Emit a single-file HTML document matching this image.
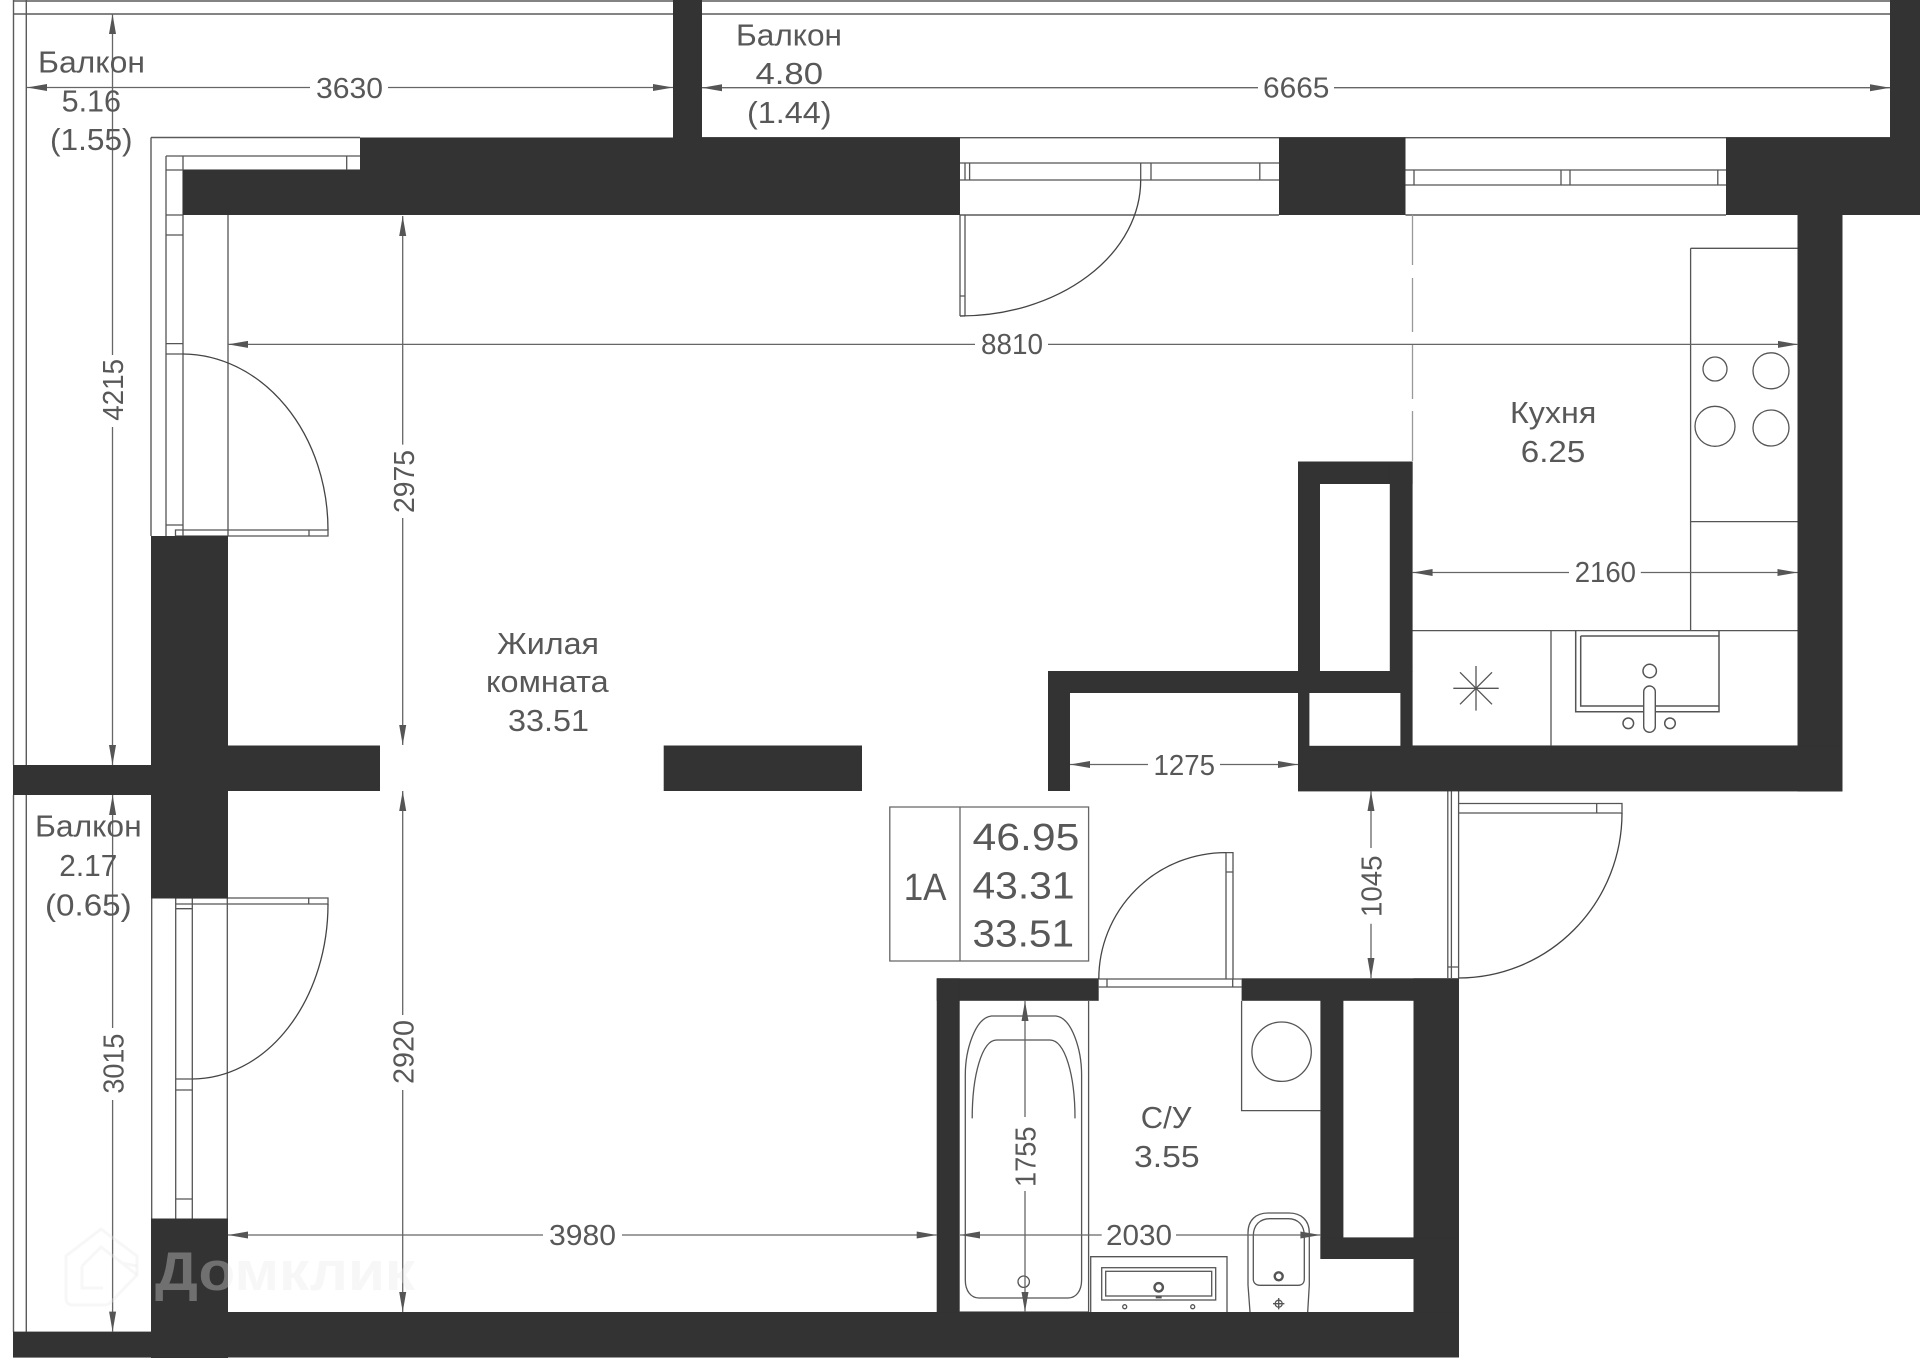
<!DOCTYPE html>
<html><head><meta charset="utf-8"><style>
html,body{margin:0;padding:0;background:#fff}
svg{display:block}
text{font-family:"Liberation Sans",sans-serif;fill:#585858}
.d{font-size:28.5px}
.r{font-size:30.5px}
.i{font-size:38px}
.l{stroke:#5a5a5a;stroke-width:1.4;fill:none}
.t{stroke:#555;stroke-width:1.3;fill:none}
.a{fill:#555}
.dl{stroke:#666;stroke-width:1.3;fill:none}
</style></head><body>
<svg width="1920" height="1358" viewBox="0 0 1920 1358" xmlns="http://www.w3.org/2000/svg">
<rect width="1920" height="1358" fill="#fff"/>

<!-- balcony lines -->
<path class="l" d="M13.5 0V765M26.3 0V765M13.5 795V1332M26.3 795V1332M13 1H673M13 14H673M702 1H1890M702 14H1890"/>
<path class="l" d="M702 137.7H1890M151 137.5H360M151 137.5V536"/>
<path class="l" d="M960 215H1279M1405.5 215H1726"/>

<!-- left window top -->
<path class="t" d="M166 156H360M166 170H360M166 156V536M183 156V536M228 215V536M166 170H183M166 215H183M166 235H183M166 343.6H183M166 354H183M166 525H183M346.7 156V170"/>
<path class="t" d="M175.5 536V530H328V536H175.5M309 530V536"/>
<path class="t" d="M183 354A146 176 0 0 1 328 530" style="stroke:#444"/>

<!-- left window lower -->
<path class="t" d="M151.7 898V1218.5M227.3 898V1218.5M175.7 898V1218.5M192.3 898V1218.5M175.7 908.7H192.3M175.7 1079H192.3M175.7 1090H192.3M175.7 1199H192.3"/>
<path class="t" d="M175.7 898H328V904H175.7M308.7 898V904"/>
<path class="t" d="M328 904A136 175 0 0 1 192.3 1079" style="stroke:#444"/>

<!-- top windows -->
<path class="t" d="M960 163H1279M960 180H1279M965 163V180M969.6 163V180M1140.7 163V180M1151 163V180M1259.8 163V180"/>
<path class="t" d="M1405.5 170H1726M1405.5 185H1726M1414 170V185M1561 170V185M1570 170V185M1717.8 170V185"/>
<path class="t" d="M960 215V316M965 215V316M960 296H965M960 316H965"/>
<path class="t" d="M1140.7 180A180.700 136 0 0 1 960 316" style="stroke:#444"/>

<!-- kitchen dash -->
<path d="M1412.5 215V265M1412.500 278V332M1412.5 344V399M1412.5 411V461" stroke="#999" stroke-width="1.3" fill="none"/>

<!-- kitchen furniture -->
<path class="t" d="M1690.600 248.3H1798M1690.6 248.3V630.6M1690.6 521.600H1798M1412 630.600H1798M1551 630.600V746M1412 746H1798"/>
<circle class="t" cx="1715" cy="369" r="12"/>
<circle class="t" cx="1771" cy="370.800" r="18"/>
<circle class="t" cx="1715" cy="426.300" r="20"/>
<circle class="t" cx="1771" cy="428" r="18"/>
<path class="t" d="M1453.300 688.300H1498.700M1476 666V710.600M1460 672.300L1492 704.300M1492 672.300L1460 704.300"/>
<path class="t" d="M1575.700 631V711.700H1719V631M1580.700 636H1719M1580.700 636V706H1719M1719 631V711.700" style="stroke-width:1.5"/>
<circle class="t" cx="1649.700" cy="671" r="6.700" style="stroke-width:1.5"/>
<rect x="1643.700" y="686" width="11.600" height="46.300" rx="5.800" fill="#fff" stroke="#555" stroke-width="1.400"/>
<circle class="t" cx="1628.300" cy="723.300" r="5.300" style="stroke-width:1.500"/>
<circle class="t" cx="1670" cy="723.300" r="5.300" style="stroke-width:1.500"/>

<!-- door to hall right -->
<path class="t" d="M1447.800 791V978M1451.400 791V978M1458.600 791V978M1447.800 967H1458.600M1458.600 803.500H1622V813H1458.600M1596.700 803.500V813M1622 803.500V813"/>
<path class="t" d="M1622 813A163.500 165 0 0 1 1458.600 978" style="stroke:#444"/>

<!-- bathroom door -->
<path class="t" d="M1098.800 979H1241.600M1098.800 987H1241.600M1107 979V987M1232.700 979V987M1226 852.600H1233V979M1226 852.600V979M1226 872H1233"/>
<path class="t" d="M1226 852.600A127 126.400 0 0 0 1098.800 979" style="stroke:#444"/>

<!-- bathroom furniture -->
<path class="t" d="M1088.600 1001V1312M959.600 1312H1088.600"/>
<path class="t" d="M991.400 1016H1056C1072 1018 1081.600 1050 1081.600 1075V1280C1081.600 1291 1076 1298 1068 1298H979C971 1298 965.300 1291 965.300 1280V1075C965.300 1050 975 1018 991.400 1016Z"/>
<path class="t" d="M972.200 1118.400C972.200 1075 982 1040 996.700 1040H1049.800C1065 1040 1075 1075 1075 1118.400"/>
<circle class="t" cx="1023.700" cy="1281.700" r="5.700"/>
<path class="t" d="M1241.600 1001V1110.600H1320.400"/>
<circle class="t" cx="1281.600" cy="1051.700" r="29.700"/>
<path class="t" d="M1090.700 1312V1256.700H1227V1312"/>
<rect class="t" x="1101.700" y="1267.700" width="114" height="32.300"/>
<rect class="t" x="1105.700" y="1271.300" width="106" height="24.700"/>
<circle class="t" cx="1158.700" cy="1287.300" r="4.200" style="stroke-width:2.400"/>
<rect x="1155.700" y="1296" width="6" height="2.400" fill="#555"/>
<circle class="t" cx="1124.700" cy="1306.700" r="2"/>
<circle class="t" cx="1192.700" cy="1306.700" r="2"/>
<path class="t" d="M1248 1285V1233C1248 1220 1256 1213 1268 1213H1289C1301 1213 1309.300 1220 1309.300 1233V1285L1307.700 1312M1248 1285L1250 1312"/>
<path class="t" d="M1253.300 1279V1236C1253.300 1225 1260 1218.700 1270 1218.700H1288C1298 1218.700 1304.300 1225 1304.300 1236V1279C1304.300 1283 1302 1285.300 1298 1285.300H1260C1256 1285.300 1253.300 1283 1253.300 1279Z"/>
<circle class="t" cx="1278.700" cy="1276.300" r="4" style="stroke-width:2.400"/>
<circle class="t" cx="1278.700" cy="1303.700" r="3.500"/>
<path class="t" d="M1273 1303.700H1284.400M1278.700 1298V1309.400"/>

<!-- walls -->
<g fill="#333">
<rect x="673" y="0" width="29" height="138"/>
<rect x="1890" y="0" width="30" height="138"/>
<rect x="360" y="137.500" width="600" height="33"/>
<rect x="183" y="170" width="777" height="45"/>
<rect x="1279" y="137.500" width="126.500" height="77.500"/>
<rect x="1726" y="137.500" width="194" height="77.500"/>
<rect x="1797.500" y="215" width="45" height="576.500"/>
<rect x="1298" y="745.800" width="544.500" height="45.600"/>
<rect x="1298" y="461.500" width="114.600" height="22.500"/>
<rect x="1298" y="461.500" width="22" height="210"/>
<rect x="1389.800" y="461.500" width="22.800" height="210"/>
<rect x="1048" y="671" width="364.600" height="22"/>
<rect x="1298" y="693" width="11.400" height="53"/>
<rect x="1400.400" y="693" width="12.200" height="53"/>
<rect x="1048" y="671" width="22" height="120"/>
<rect x="151" y="536" width="77" height="362.500"/>
<rect x="228" y="745.500" width="152" height="45.500"/>
<rect x="13" y="765" width="138" height="30"/>
<rect x="663.700" y="745.500" width="198.300" height="45.500"/>
<rect x="151" y="1218.500" width="77" height="139.500"/>
<rect x="151" y="1312" width="1308" height="45.500"/>
<rect x="13" y="1331.600" width="138" height="26"/>
<rect x="936.700" y="978.300" width="162" height="22.500"/>
<rect x="1241.600" y="978.300" width="217.400" height="22.500"/>
<rect x="936.700" y="978.300" width="23" height="334"/>
<rect x="1320.400" y="1000" width="23" height="259"/>
<rect x="1413.500" y="978.300" width="45.500" height="334"/>
<rect x="1320.400" y="1237.400" width="138.600" height="21.600"/>
</g>

<!-- info box -->
<path class="t" d="M889.800 807H1088.600V961H889.800ZM960 807V961" style="stroke:#666"/>

<!-- dimension lines -->
<path class="dl" d="M27 87.500H310M388 87.500H673M702 87.700H1258M1334 87.700H1890M228 344.400H975M1048 344.400H1798M1412.600 572.500H1569M1640.800 572.500H1797.500M1070 764.500H1148M1220 764.500H1298M228 1235H543M622 1235H936.700M960 1235H1101.700M1176 1235H1320.400"/>
<path class="dl" d="M112.500 14V355M112.500 427V765M112.600 795V1028M112.600 1100V1331.600M402.700 216V444.600M402.700 518V745M402.700 791V1015M402.700 1090V1312M1371 791V848M1371 923.800V978M1025 1001V1117M1025 1191V1312"/>

<!-- arrowheads -->
<g class="a">
<path d="M27 87.500l20 -3.500v7z"/><path d="M673 87.500l-20 -3.500v7z"/>
<path d="M702 87.700l20 -3.500v7z"/><path d="M1890 87.700l-20 -3.500v7z"/>
<path d="M228 344.400l20 -3.500v7z"/><path d="M1798 344.400l-20 -3.500v7z"/>
<path d="M1412.600 572.500l20 -3.500v7z"/><path d="M1797.500 572.500l-20 -3.500v7z"/>
<path d="M1070 764.500l20 -3.500v7z"/><path d="M1298 764.500l-20 -3.500v7z"/>
<path d="M228 1235l20 -3.500v7z"/><path d="M936.700 1235l-20 -3.500v7z"/>
<path d="M960 1235l20 -3.500v7z"/><path d="M1320.400 1235l-20 -3.500v7z"/>
<path d="M112.500 14l-3.500 20h7z"/><path d="M112.500 765l-3.500 -20h7z"/>
<path d="M112.600 795l-3.500 20h7z"/><path d="M112.600 1331.600l-3.500 -20h7z"/>
<path d="M402.700 216l-3.500 20h7z"/><path d="M402.700 745l-3.500 -20h7z"/>
<path d="M402.700 791l-3.500 20h7z"/><path d="M402.700 1312l-3.500 -20h7z"/>
<path d="M1371 791l-3.500 20h7z"/><path d="M1371 978l-3.500 -20h7z"/>
<path d="M1025 1001l-3.500 20h7z"/><path d="M1025 1312l-3.500 -20h7z"/>
</g>

<!-- horizontal dimension labels -->
<text class="d" x="316" y="98" textLength="67" lengthAdjust="spacingAndGlyphs">3630</text>
<text class="d" x="1263" y="97.700" textLength="66.400" lengthAdjust="spacingAndGlyphs">6665</text>
<text class="d" x="981" y="354" textLength="62" lengthAdjust="spacingAndGlyphs">8810</text>
<text class="d" x="1574.700" y="582" textLength="61.300" lengthAdjust="spacingAndGlyphs">2160</text>
<text class="d" x="1153.500" y="775" textLength="61.500" lengthAdjust="spacingAndGlyphs">1275</text>
<text class="d" x="549" y="1245" textLength="67" lengthAdjust="spacingAndGlyphs">3980</text>
<text class="d" x="1106" y="1245" textLength="66" lengthAdjust="spacingAndGlyphs">2030</text>

<!-- vertical dimension labels -->
<text class="d" transform="translate(123 420.700) rotate(-90)" textLength="61.700" lengthAdjust="spacingAndGlyphs">4215</text>
<text class="d" transform="translate(123.300 1093.600) rotate(-90)" textLength="60" lengthAdjust="spacingAndGlyphs">3015</text>
<text class="d" transform="translate(414 513) rotate(-90)" textLength="63" lengthAdjust="spacingAndGlyphs">2975</text>
<text class="d" transform="translate(413.300 1084) rotate(-90)" textLength="64" lengthAdjust="spacingAndGlyphs">2920</text>
<text class="d" transform="translate(1381.600 917) rotate(-90)" textLength="61.500" lengthAdjust="spacingAndGlyphs">1045</text>
<text class="d" transform="translate(1035.500 1187) rotate(-90)" textLength="60.500" lengthAdjust="spacingAndGlyphs">1755</text>

<!-- room labels -->
<text class="r" x="38" y="72.500" textLength="107" lengthAdjust="spacingAndGlyphs">Балкон</text>
<text class="r" x="61.600" y="111.400" textLength="59.400" lengthAdjust="spacingAndGlyphs">5.16</text>
<text class="r" x="50" y="150" textLength="82.600" lengthAdjust="spacingAndGlyphs">(1.55)</text>

<text class="r" x="736" y="45.500" textLength="106" lengthAdjust="spacingAndGlyphs">Балкон</text>
<text class="r" x="755.500" y="84" textLength="67.500" lengthAdjust="spacingAndGlyphs">4.80</text>
<text class="r" x="747" y="123" textLength="84.500" lengthAdjust="spacingAndGlyphs">(1.44)</text>

<text class="r" x="35" y="836.600" textLength="106.700" lengthAdjust="spacingAndGlyphs">Балкон</text>
<text class="r" x="59.300" y="876" textLength="58" lengthAdjust="spacingAndGlyphs">2.17</text>
<text class="r" x="45" y="915.400" textLength="86.700" lengthAdjust="spacingAndGlyphs">(0.65)</text>

<text class="r" x="1510" y="422.800" textLength="86.300" lengthAdjust="spacingAndGlyphs">Кухня</text>
<text class="r" x="1520.800" y="461.900" textLength="64.500" lengthAdjust="spacingAndGlyphs">6.25</text>

<text class="r" x="497" y="654" textLength="102" lengthAdjust="spacingAndGlyphs">Жилая</text>
<text class="r" x="486" y="692" textLength="122.600" lengthAdjust="spacingAndGlyphs">комната</text>
<text class="r" x="508" y="731" textLength="81" lengthAdjust="spacingAndGlyphs">33.51</text>

<text class="r" x="1140.800" y="1128" textLength="50.600" lengthAdjust="spacingAndGlyphs">С/У</text>
<text class="r" x="1134" y="1167" textLength="65.600" lengthAdjust="spacingAndGlyphs">3.55</text>

<!-- info labels -->
<text class="i" x="903.700" y="899.800" textLength="42.800" lengthAdjust="spacingAndGlyphs">1А</text>
<text class="i" x="972.500" y="850" textLength="106.900" lengthAdjust="spacingAndGlyphs">46.95</text>
<text class="i" x="972.500" y="898.700" textLength="102" lengthAdjust="spacingAndGlyphs">43.31</text>
<text class="i" x="972.500" y="946.600" textLength="101.500" lengthAdjust="spacingAndGlyphs">33.51</text>

<!-- watermark -->
<g fill="none" stroke="rgb(231,231,231)" stroke-opacity=".35" stroke-width="3">
<path d="M66 1256L101 1229L137 1256V1275L111 1302C108 1305 106 1305 103 1305H72C68 1305 66 1302 66 1298Z"/>
<path d="M82 1266L101 1247L122 1263L137 1266M82 1266V1288H103M122 1263L137 1275"/>
</g>
<text x="155" y="1290" font-size="55" font-weight="bold" textLength="260" lengthAdjust="spacingAndGlyphs" style="fill:rgb(231,231,231);fill-opacity:.34">Домклик</text>
</svg>
</body></html>
